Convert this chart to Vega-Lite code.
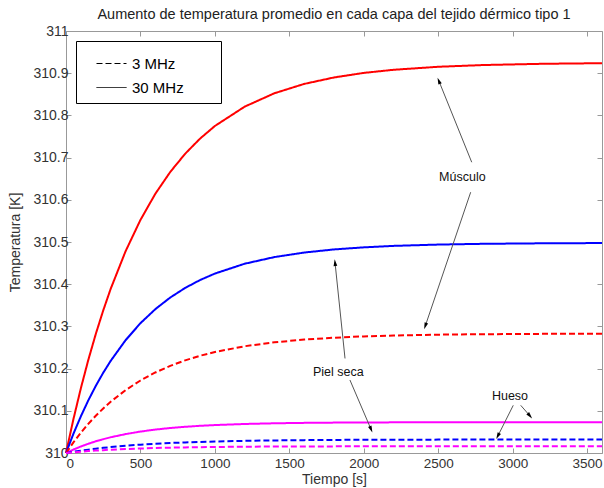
{
  "$schema": "https://vega.github.io/schema/vega-lite/v6.json",
  "width": 536,
  "height": 422,
  "autosize": {"type": "none"},
  "padding": {"left": 66, "top": 31, "right": 2, "bottom": 35},
  "background": "white",
  "title": {"text": "Aumento de temperatura promedio en cada capa del tejido dérmico tipo 1", "fontSize": 14.5, "fontWeight": "normal", "font": "Liberation Sans", "color": "#222", "offset": 2, "anchor": "middle"},
  "config": {
    "font": "Liberation Sans",
    "view": {"stroke": "#999", "strokeWidth": 1},
    "axis": {"domain": false, "grid": false, "tickColor": "#999", "tickSize": -5, "labelColor": "#333", "titleColor": "#333", "titleFontWeight": "normal", "labelFont": "Liberation Sans", "titleFont": "Liberation Sans"}
  },
  "datasets": {
    "series": [
      {"t":0,"T":310,"c":"Músculo","f":"30 MHz"},{"t":50,"T":310.0804,"c":"Músculo","f":"30 MHz"},{"t":100,"T":310.1537,"c":"Músculo","f":"30 MHz"},{"t":150,"T":310.2208,"c":"Músculo","f":"30 MHz"},{"t":200,"T":310.2820,"c":"Músculo","f":"30 MHz"},{"t":250,"T":310.3378,"c":"Músculo","f":"30 MHz"},{"t":300,"T":310.3889,"c":"Músculo","f":"30 MHz"},{"t":400,"T":310.4780,"c":"Músculo","f":"30 MHz"},{"t":500,"T":310.5523,"c":"Músculo","f":"30 MHz"},{"t":600,"T":310.6143,"c":"Músculo","f":"30 MHz"},{"t":700,"T":310.6659,"c":"Músculo","f":"30 MHz"},{"t":800,"T":310.7090,"c":"Músculo","f":"30 MHz"},{"t":900,"T":310.7449,"c":"Músculo","f":"30 MHz"},{"t":1000,"T":310.7749,"c":"Músculo","f":"30 MHz"},{"t":1200,"T":310.8207,"c":"Músculo","f":"30 MHz"},{"t":1400,"T":310.8525,"c":"Músculo","f":"30 MHz"},{"t":1600,"T":310.8746,"c":"Músculo","f":"30 MHz"},{"t":1800,"T":310.8899,"c":"Músculo","f":"30 MHz"},{"t":2000,"T":310.9007,"c":"Músculo","f":"30 MHz"},{"t":2200,"T":310.9081,"c":"Músculo","f":"30 MHz"},{"t":2500,"T":310.9152,"c":"Músculo","f":"30 MHz"},{"t":2800,"T":310.9193,"c":"Músculo","f":"30 MHz"},{"t":3200,"T":310.9223,"c":"Músculo","f":"30 MHz"},{"t":3600,"T":310.9237,"c":"Músculo","f":"30 MHz"},
      {"t":0,"T":310,"c":"Piel seca","f":"30 MHz"},{"t":50,"T":310.0457,"c":"Piel seca","f":"30 MHz"},{"t":100,"T":310.0871,"c":"Piel seca","f":"30 MHz"},{"t":150,"T":310.1248,"c":"Piel seca","f":"30 MHz"},{"t":200,"T":310.1590,"c":"Piel seca","f":"30 MHz"},{"t":250,"T":310.1901,"c":"Piel seca","f":"30 MHz"},{"t":300,"T":310.2183,"c":"Piel seca","f":"30 MHz"},{"t":400,"T":310.2672,"c":"Piel seca","f":"30 MHz"},{"t":500,"T":310.3076,"c":"Piel seca","f":"30 MHz"},{"t":600,"T":310.3409,"c":"Piel seca","f":"30 MHz"},{"t":700,"T":310.3684,"c":"Piel seca","f":"30 MHz"},{"t":800,"T":310.3911,"c":"Piel seca","f":"30 MHz"},{"t":900,"T":310.4098,"c":"Piel seca","f":"30 MHz"},{"t":1000,"T":310.4252,"c":"Piel seca","f":"30 MHz"},{"t":1200,"T":310.4485,"c":"Piel seca","f":"30 MHz"},{"t":1400,"T":310.4643,"c":"Piel seca","f":"30 MHz"},{"t":1600,"T":310.4750,"c":"Piel seca","f":"30 MHz"},{"t":1800,"T":310.4824,"c":"Piel seca","f":"30 MHz"},{"t":2000,"T":310.4873,"c":"Piel seca","f":"30 MHz"},{"t":2200,"T":310.4908,"c":"Piel seca","f":"30 MHz"},{"t":2500,"T":310.4939,"c":"Piel seca","f":"30 MHz"},{"t":2800,"T":310.4957,"c":"Piel seca","f":"30 MHz"},{"t":3200,"T":310.4969,"c":"Piel seca","f":"30 MHz"},{"t":3600,"T":310.4975,"c":"Piel seca","f":"30 MHz"},
      {"t":0,"T":310,"c":"Hueso","f":"30 MHz"},{"t":50,"T":310.0082,"c":"Hueso","f":"30 MHz"},{"t":100,"T":310.0155,"c":"Hueso","f":"30 MHz"},{"t":150,"T":310.0219,"c":"Hueso","f":"30 MHz"},{"t":200,"T":310.0277,"c":"Hueso","f":"30 MHz"},{"t":250,"T":310.0327,"c":"Hueso","f":"30 MHz"},{"t":300,"T":310.0373,"c":"Hueso","f":"30 MHz"},{"t":400,"T":310.0448,"c":"Hueso","f":"30 MHz"},{"t":500,"T":310.0508,"c":"Hueso","f":"30 MHz"},{"t":600,"T":310.0555,"c":"Hueso","f":"30 MHz"},{"t":700,"T":310.0592,"c":"Hueso","f":"30 MHz"},{"t":800,"T":310.0621,"c":"Hueso","f":"30 MHz"},{"t":900,"T":310.0644,"c":"Hueso","f":"30 MHz"},{"t":1000,"T":310.0662,"c":"Hueso","f":"30 MHz"},{"t":1200,"T":310.0688,"c":"Hueso","f":"30 MHz"},{"t":1400,"T":310.0704,"c":"Hueso","f":"30 MHz"},{"t":1600,"T":310.0714,"c":"Hueso","f":"30 MHz"},{"t":1800,"T":310.0720,"c":"Hueso","f":"30 MHz"},{"t":2000,"T":310.0724,"c":"Hueso","f":"30 MHz"},{"t":2200,"T":310.0726,"c":"Hueso","f":"30 MHz"},{"t":2500,"T":310.0728,"c":"Hueso","f":"30 MHz"},{"t":2800,"T":310.0729,"c":"Hueso","f":"30 MHz"},{"t":3200,"T":310.0730,"c":"Hueso","f":"30 MHz"},{"t":3600,"T":310.0730,"c":"Hueso","f":"30 MHz"},
      {"t":0,"T":310,"c":"Músculo","f":"3 MHz"},{"t":50,"T":310.0252,"c":"Músculo","f":"3 MHz"},{"t":100,"T":310.0483,"c":"Músculo","f":"3 MHz"},{"t":150,"T":310.0692,"c":"Músculo","f":"3 MHz"},{"t":200,"T":310.0883,"c":"Músculo","f":"3 MHz"},{"t":250,"T":310.1056,"c":"Músculo","f":"3 MHz"},{"t":300,"T":310.1215,"c":"Músculo","f":"3 MHz"},{"t":400,"T":310.1490,"c":"Músculo","f":"3 MHz"},{"t":500,"T":310.1718,"c":"Músculo","f":"3 MHz"},{"t":600,"T":310.1908,"c":"Músculo","f":"3 MHz"},{"t":700,"T":310.2065,"c":"Músculo","f":"3 MHz"},{"t":800,"T":310.2195,"c":"Músculo","f":"3 MHz"},{"t":900,"T":310.2304,"c":"Músculo","f":"3 MHz"},{"t":1000,"T":310.2393,"c":"Músculo","f":"3 MHz"},{"t":1200,"T":310.2530,"c":"Músculo","f":"3 MHz"},{"t":1400,"T":310.2623,"c":"Músculo","f":"3 MHz"},{"t":1600,"T":310.2688,"c":"Músculo","f":"3 MHz"},{"t":1800,"T":310.2732,"c":"Músculo","f":"3 MHz"},{"t":2000,"T":310.2763,"c":"Músculo","f":"3 MHz"},{"t":2200,"T":310.2784,"c":"Músculo","f":"3 MHz"},{"t":2500,"T":310.2804,"c":"Músculo","f":"3 MHz"},{"t":2800,"T":310.2815,"c":"Músculo","f":"3 MHz"},{"t":3200,"T":310.2823,"c":"Músculo","f":"3 MHz"},{"t":3600,"T":310.2827,"c":"Músculo","f":"3 MHz"},
      {"t":0,"T":310,"c":"Piel seca","f":"3 MHz"},{"t":50,"T":310.0029,"c":"Piel seca","f":"3 MHz"},{"t":100,"T":310.0056,"c":"Piel seca","f":"3 MHz"},{"t":150,"T":310.0080,"c":"Piel seca","f":"3 MHz"},{"t":200,"T":310.0102,"c":"Piel seca","f":"3 MHz"},{"t":250,"T":310.0122,"c":"Piel seca","f":"3 MHz"},{"t":300,"T":310.0140,"c":"Piel seca","f":"3 MHz"},{"t":400,"T":310.0172,"c":"Piel seca","f":"3 MHz"},{"t":500,"T":310.0198,"c":"Piel seca","f":"3 MHz"},{"t":600,"T":310.0219,"c":"Piel seca","f":"3 MHz"},{"t":700,"T":310.0237,"c":"Piel seca","f":"3 MHz"},{"t":800,"T":310.0251,"c":"Piel seca","f":"3 MHz"},{"t":900,"T":310.0263,"c":"Piel seca","f":"3 MHz"},{"t":1000,"T":310.0273,"c":"Piel seca","f":"3 MHz"},{"t":1200,"T":310.0288,"c":"Piel seca","f":"3 MHz"},{"t":1400,"T":310.0298,"c":"Piel seca","f":"3 MHz"},{"t":1600,"T":310.0305,"c":"Piel seca","f":"3 MHz"},{"t":1800,"T":310.0310,"c":"Piel seca","f":"3 MHz"},{"t":2000,"T":310.0313,"c":"Piel seca","f":"3 MHz"},{"t":2200,"T":310.0315,"c":"Piel seca","f":"3 MHz"},{"t":2500,"T":310.0317,"c":"Piel seca","f":"3 MHz"},{"t":2800,"T":310.0319,"c":"Piel seca","f":"3 MHz"},{"t":3200,"T":310.0319,"c":"Piel seca","f":"3 MHz"},{"t":3600,"T":310.0320,"c":"Piel seca","f":"3 MHz"},
      {"t":0,"T":310,"c":"Hueso","f":"3 MHz"},{"t":50,"T":310.0017,"c":"Hueso","f":"3 MHz"},{"t":100,"T":310.0032,"c":"Hueso","f":"3 MHz"},{"t":150,"T":310.0045,"c":"Hueso","f":"3 MHz"},{"t":200,"T":310.0057,"c":"Hueso","f":"3 MHz"},{"t":250,"T":310.0068,"c":"Hueso","f":"3 MHz"},{"t":300,"T":310.0078,"c":"Hueso","f":"3 MHz"},{"t":400,"T":310.0094,"c":"Hueso","f":"3 MHz"},{"t":500,"T":310.0107,"c":"Hueso","f":"3 MHz"},{"t":600,"T":310.0118,"c":"Hueso","f":"3 MHz"},{"t":700,"T":310.0126,"c":"Hueso","f":"3 MHz"},{"t":800,"T":310.0133,"c":"Hueso","f":"3 MHz"},{"t":900,"T":310.0138,"c":"Hueso","f":"3 MHz"},{"t":1000,"T":310.0143,"c":"Hueso","f":"3 MHz"},{"t":1200,"T":310.0149,"c":"Hueso","f":"3 MHz"},{"t":1400,"T":310.0153,"c":"Hueso","f":"3 MHz"},{"t":1600,"T":310.0155,"c":"Hueso","f":"3 MHz"},{"t":1800,"T":310.0157,"c":"Hueso","f":"3 MHz"},{"t":2000,"T":310.0158,"c":"Hueso","f":"3 MHz"},{"t":2200,"T":310.0159,"c":"Hueso","f":"3 MHz"},{"t":2500,"T":310.0159,"c":"Hueso","f":"3 MHz"},{"t":2800,"T":310.0160,"c":"Hueso","f":"3 MHz"},{"t":3200,"T":310.0160,"c":"Hueso","f":"3 MHz"},{"t":3600,"T":310.0160,"c":"Hueso","f":"3 MHz"}
    ],
    "arrows": [
      {"t":2725,"T":310.689,"t2":2504,"T2":310.882,"a":338},
      {"t":2718,"T":310.618,"t2":2413,"T2":310.301,"a":199},
      {"t":1874,"T":310.224,"t2":1807,"T2":310.451,"a":354},
      {"t":1907,"T":310.173,"t2":2049,"T2":310.056,"a":157},
      {"t":3004,"T":310.113,"t2":2900,"T2":310.040,"a":207},
      {"t":3054,"T":310.113,"t2":3116,"T2":310.088,"a":139}
    ],
    "labels": [
      {"t":2662,"T":310.654,"txt":"Músculo"},
      {"t":1829,"T":310.193,"txt":"Piel seca"},
      {"t":2982,"T":310.136,"txt":"Hueso"}
    ]
  },
  "layer": [
    {
      "data": {"name": "series"},
      "mark": {"type": "line", "strokeWidth": 2},
      "encoding": {
        "x": {"field": "t", "type": "quantitative", "scale": {"domain": [0, 3600], "nice": false, "zero": false},
              "axis": {"orient": "bottom", "values": [0,500,1000,1500,2000,2500,3000,3500], "format": "d", "title": "Tiempo [s]", "titleFontSize": 14, "labelFontSize": 13.5, "labelPadding": 8, "titlePadding": 3}},
        "y": {"field": "T", "type": "quantitative", "scale": {"domain": [310, 311], "nice": false, "zero": false},
              "axis": {"orient": "left", "values": [310,310.1,310.2,310.3,310.4,310.5,310.6,310.7,310.8,310.9,311], "format": ".1~f", "title": "Temperatura [K]", "titleFontSize": 14, "labelFontSize": 14, "labelPadding": 3, "titlePadding": 10}},
        "color": {"field": "c", "type": "nominal", "scale": {"domain": ["Músculo", "Piel seca", "Hueso"], "range": ["#ff0000", "#0000ff", "#ff00ff"]}, "legend": null},
        "strokeDash": {"field": "f", "type": "nominal", "scale": {"domain": ["3 MHz", "30 MHz"], "range": [[6, 3], [1, 0]]},
          "legend": {"orient": "top-left", "offset": 10, "title": "\u00a0", "titleOrient": "right", "titlePadding": 30, "titleFontSize": 4, "symbolType": "stroke", "symbolStrokeColor": "black", "symbolStrokeWidth": 1, "symbolSize": 900, "labelFontSize": 15, "labelColor": "#000", "strokeColor": "black", "fillColor": "white", "padding": 7, "symbolOffset": 13, "labelOffset": 5, "rowPadding": -7}}
      }
    },
    {
      "data": {"name": "arrows"},
      "mark": {"type": "rule", "color": "#555", "strokeWidth": 1},
      "encoding": {
        "x": {"field": "t", "type": "quantitative", "axis": {"orient": "top", "values": [0,500,1000,1500,2000,2500,3000,3500], "labels": false, "title": null}},
        "y": {"field": "T", "type": "quantitative", "axis": {"orient": "right", "values": [310,310.1,310.2,310.3,310.4,310.5,310.6,310.7,310.8,310.9,311], "labels": false, "title": null}},
        "x2": {"field": "t2"},
        "y2": {"field": "T2"}
      }
    },
    {
      "data": {"name": "arrows"},
      "mark": {"type": "point", "shape": "M0,-1L0.55,1L-0.55,1Z", "filled": true, "color": "#000", "size": 45, "opacity": 1},
      "encoding": {
        "x": {"field": "t2", "type": "quantitative", "axis": null},
        "y": {"field": "T2", "type": "quantitative", "axis": null},
        "angle": {"field": "a", "type": "quantitative", "scale": null}
      }
    },
    {
      "data": {"name": "labels"},
      "mark": {"type": "text", "fontSize": 12.5, "color": "#111", "font": "Liberation Sans"},
      "encoding": {
        "x": {"field": "t", "type": "quantitative", "axis": null},
        "y": {"field": "T", "type": "quantitative", "axis": null},
        "text": {"field": "txt"}
      }
    }
  ],
  "resolve": {"axis": {"x": "independent", "y": "independent"}}
}
